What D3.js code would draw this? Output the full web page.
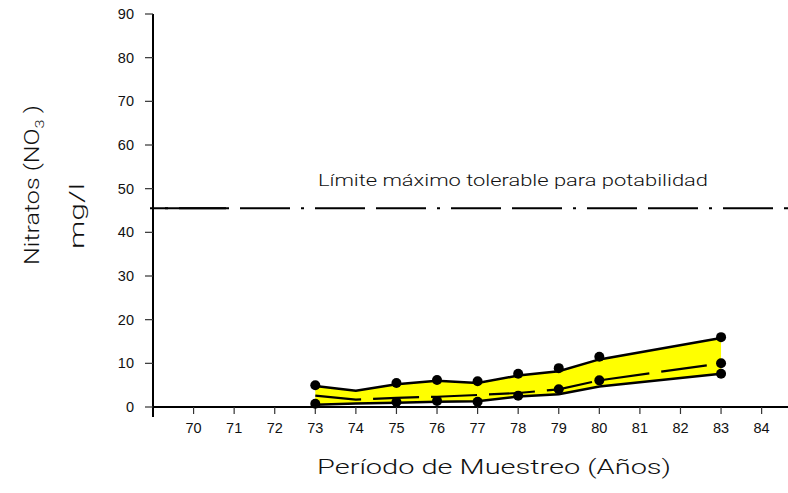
<!DOCTYPE html>
<html>
<head>
<meta charset="utf-8">
<script src="https://cdn.jsdelivr.net/npm/d3@7"></script>
<style>
  body { margin: 0; background: #fff; }
  svg { display: block; }
</style>
</head>
<body>
<script>
var width = 788, height = 493;

// data
var years = [73, 74, 75, 76, 77, 78, 79, 80, 83];
var maxLine = [4.8, 3.7, 5.2, 6.0, 5.5, 7.2, 8.2, 10.9, 15.8];
var meanLine = [2.6, 1.7, 2.1, 2.35, 2.75, 3.2, 4.05, 6.1, 10.0];
var minLine = [0.5, 0.8, 1.0, 1.2, 1.3, 2.4, 2.9, 4.7, 7.6];

// measured points (dots)
var dotYears = [73, 75, 76, 77, 78, 79, 80, 83,
                73, 75, 76, 77, 78, 83,
                79, 80, 83];
var dotValues = [5.0, 5.5, 6.2, 5.9, 7.6, 8.9, 11.5, 16.0,
                 0.75, 1.15, 1.4, 1.2, 2.6, 7.6,
                 4.05, 6.1, 10.0];

var xTicks = [70, 71, 72, 73, 74, 75, 76, 77, 78, 79, 80, 81, 82, 83, 84];
var yTicks = [0, 10, 20, 30, 40, 50, 60, 70, 80, 90];
var limitValue = 45.5;
var limitLabel = "Límite máximo tolerable para potabilidad";
var xTitle = "Período de Muestreo (Años)";
var yTitle1 = "Nitratos";
var yTitle2 = "mg/l";

var svg = d3.select("body")
            .append("svg")
            .attr("width", width)
            .attr("height", height);

var x = d3.scaleLinear().domain([69, 84.65]).range([153, 788]);
var y = d3.scaleLinear().domain([0, 90]).range([407, 14]);

var tickFont = "'Liberation Sans', Arial, sans-serif";
var thinFont = "Roboto, 'DejaVu Sans', sans-serif";

// band between min and max
var area = d3.area()
    .x(function(d, i) { return x(years[i]); })
    .y0(function(d, i) { return y(minLine[i]); })
    .y1(function(d, i) { return y(maxLine[i]); });

svg.append("path")
   .datum(years)
   .attr("d", area)
   .attr("fill", "#ffff00");

var line = d3.line()
    .x(function(d, i) { return x(years[i]); })
    .y(function(d) { return y(d); });

// limit line (dash dot)
svg.append("line")
   .attr("x1", x(69)).attr("x2", x(84.65))
   .attr("y1", y(limitValue)).attr("y2", y(limitValue))
   .attr("stroke", "#000")
   .attr("stroke-width", 2)
   .attr("stroke-dasharray", "50,11,3,11,50,11")
   .attr("stroke-dashoffset", 49);
svg.append("line")
   .attr("x1", x(69) - 3).attr("x2", x(70.8))
   .attr("y1", y(limitValue)).attr("y2", y(limitValue))
   .attr("stroke", "#000")
   .attr("stroke-width", 2);

svg.append("text")
   .attr("x", 513)
   .attr("y", y(limitValue) - 22)
   .attr("text-anchor", "middle")
   .attr("font-family", thinFont)
   .attr("font-weight", 300)
   .attr("font-size", "17px")
   .attr("textLength", 390)
   .attr("lengthAdjust", "spacingAndGlyphs")
   .attr("fill", "#111")
   .text(limitLabel);

// axes
svg.append("line")
   .attr("x1", x(69)).attr("x2", x(84.65))
   .attr("y1", y(0)).attr("y2", y(0))
   .attr("stroke", "#000").attr("stroke-width", 2);
svg.append("line")
   .attr("x1", x(69)).attr("x2", x(69))
   .attr("y1", y(90)).attr("y2", y(0) + 10)
   .attr("stroke", "#000").attr("stroke-width", 2);

svg.selectAll(".ytick")
   .data(yTicks)
   .enter()
   .append("line")
   .attr("class", "ytick")
   .attr("x1", x(69) - 8).attr("x2", x(69))
   .attr("y1", function(d) { return y(d); })
   .attr("y2", function(d) { return y(d); })
   .attr("stroke", "#333").attr("stroke-width", 1.2);

svg.selectAll(".ylab")
   .data(yTicks)
   .enter()
   .append("text")
   .attr("class", "ylab")
   .attr("x", x(69) - 19)
   .attr("y", function(d) { return y(d) + 5; })
   .attr("text-anchor", "end")
   .attr("font-family", tickFont)
   .attr("font-size", "14.5px")
   .attr("fill", "#111")
   .text(function(d) { return d; });

svg.selectAll(".xtick")
   .data(xTicks)
   .enter()
   .append("line")
   .attr("class", "xtick")
   .attr("x1", function(d) { return x(d); })
   .attr("x2", function(d) { return x(d); })
   .attr("y1", y(0)).attr("y2", y(0) + 7)
   .attr("stroke", "#333").attr("stroke-width", 1.2);

svg.selectAll(".xlab")
   .data(xTicks)
   .enter()
   .append("text")
   .attr("class", "xlab")
   .attr("x", function(d) { return x(d); })
   .attr("y", y(0) + 26)
   .attr("text-anchor", "middle")
   .attr("font-family", tickFont)
   .attr("font-size", "14.5px")
   .attr("fill", "#111")
   .text(function(d) { return d; });

// series lines
svg.append("path")
   .datum(maxLine)
   .attr("d", line)
   .attr("fill", "none")
   .attr("stroke", "#000")
   .attr("stroke-width", 2.5);

svg.append("path")
   .datum(minLine)
   .attr("d", line)
   .attr("fill", "none")
   .attr("stroke", "#000")
   .attr("stroke-width", 2.5);

svg.append("path")
   .datum(meanLine)
   .attr("d", line)
   .attr("fill", "none")
   .attr("stroke", "#000")
   .attr("stroke-width", 2.2)
   .attr("stroke-dasharray", "46,12");

svg.selectAll("circle")
   .data(dotValues)
   .enter()
   .append("circle")
   .attr("cx", function(d, i) { return x(dotYears[i]); })
   .attr("cy", function(d) { return y(d); })
   .attr("r", 5)
   .attr("fill", "#000");

// titles
svg.append("text")
   .attr("x", 494)
   .attr("y", 474)
   .attr("text-anchor", "middle")
   .attr("font-family", thinFont)
   .attr("font-weight", 300)
   .attr("font-size", "20px")
   .attr("textLength", 354)
   .attr("lengthAdjust", "spacingAndGlyphs")
   .attr("fill", "#111")
   .text(xTitle);

var yt = svg.append("text")
   .attr("transform", "translate(39,185) rotate(-90)")
   .attr("text-anchor", "middle")
   .attr("font-family", thinFont)
   .attr("font-weight", 300)
   .attr("font-size", "20px")
   .attr("textLength", 160)
   .attr("lengthAdjust", "spacingAndGlyphs")
   .attr("fill", "#111");
yt.append("tspan").text(yTitle1 + "  (NO");
yt.append("tspan").attr("dy", 5).attr("font-size", "13px").text("3");
yt.append("tspan").attr("dy", -5).text(" )");

svg.append("text")
   .attr("transform", "translate(84,216) rotate(-90)")
   .attr("text-anchor", "middle")
   .attr("font-family", thinFont)
   .attr("font-weight", 300)
   .attr("font-size", "20px")
   .attr("textLength", 66)
   .attr("lengthAdjust", "spacingAndGlyphs")
   .attr("fill", "#111")
   .text(yTitle2);
</script>
</body>
</html>
